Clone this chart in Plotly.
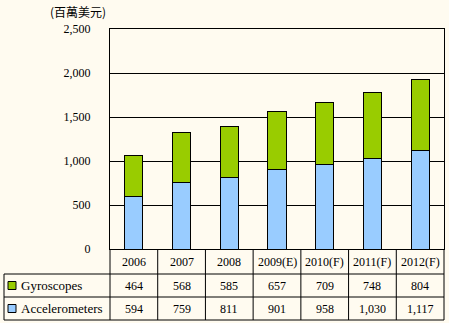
import plotly.graph_objects as go

# Annual market size, million USD
years = ["2006", "2007", "2008", "2009(E)", "2010(F)", "2011(F)", "2012(F)"]
gyroscopes = [464, 568, 585, 657, 709, 748, 804]
accelerometers = [594, 759, 811, 901, 958, 1030, 1117]
series_names = ["Gyroscopes", "Accelerometers"]
y_ticks = [0, 500, 1000, 1500, 2000, 2500]
unit_label = "(百萬美元)"

BG = "#FFFBF0"
GREEN = "#99CC00"
BLUE = "#99CCFF"
FONT = "Liberation Serif"

W, H = 449, 323
ML, MR, MT, MB = 110, 5, 29, 74
PW, PH = W - ML - MR, H - MT - MB

def py(px):
    """pixel row -> paper y"""
    return (H - MB - px) / PH

def px_x(px):
    """pixel column -> paper x"""
    return (px - ML) / PW

xs = list(range(len(years)))

fig = go.Figure()
fig.add_bar(x=xs, y=accelerometers, name=series_names[1],
            marker=dict(color=BLUE, line=dict(color="black", width=1)))
fig.add_bar(x=xs, y=gyroscopes, name=series_names[0],
            marker=dict(color=GREEN, line=dict(color="black", width=1)))

shapes = []
annotations = []
LINE = dict(color="black", width=1)

# data table rows: years, gyroscopes, accelerometers
row_lines = [py(274), py(297), py(320)]
table_left = px_x(4)
n = len(years)

for yv in row_lines:
    shapes.append(dict(type="line", xref="paper", yref="paper",
                       x0=table_left, x1=1, y0=yv, y1=yv, line=LINE))
shapes.append(dict(type="line", xref="paper", yref="paper",
                   x0=table_left, x1=table_left, y0=row_lines[0], y1=row_lines[2],
                   line=LINE))
shapes.append(dict(type="line", xref="paper", yref="paper",
                   x0=0, x1=0, y0=0, y1=row_lines[2], line=LINE))
shapes.append(dict(type="line", xref="paper", yref="paper",
                   x0=1, x1=1, y0=0, y1=row_lines[2], line=LINE))
for k in range(1, n):
    shapes.append(dict(type="line", xref="x", yref="paper",
                       x0=k - 0.5, x1=k - 0.5, y0=0, y1=row_lines[2], line=LINE))

row_centers = [(0 + row_lines[0]) / 2,
               (row_lines[0] + row_lines[1]) / 2,
               (row_lines[1] + row_lines[2]) / 2]

def cell(x, y, text, xref="x", xanchor="center", family=FONT, size=12):
    annotations.append(dict(x=x, y=y, xref=xref, yref="paper", text=text,
                            showarrow=False, xanchor=xanchor, yanchor="middle",
                            font=dict(family=family, size=size, color="black")))

for k, yr in enumerate(years):
    cell(k, row_centers[0], yr)
    cell(k, row_centers[1], f"{gyroscopes[k]:,}")
    cell(k, row_centers[2], f"{accelerometers[k]:,}")

# legend keys inside the table
for name, color, yc in [(series_names[0], GREEN, row_centers[1]),
                        (series_names[1], BLUE, row_centers[2])]:
    half = 4 / PH
    shapes.append(dict(type="rect", xref="paper", yref="paper",
                       x0=px_x(8), x1=px_x(16), y0=yc - half, y1=yc + half,
                       fillcolor=color, line=LINE))
    cell(px_x(19), yc, name, xref="paper", xanchor="left", size=13)

cell(px_x(78), py(12), unit_label, xref="paper",
     family="Noto Sans CJK TC", size=12)

fig.update_layout(
    width=W, height=H,
    margin=dict(l=ML, r=MR, t=MT, b=MB),
    paper_bgcolor=BG, plot_bgcolor=BG,
    barmode="stack", bargap=0.62,
    showlegend=False,
    shapes=shapes, annotations=annotations,
    xaxis=dict(range=[-0.5, n - 0.5], showticklabels=False, ticks="",
               showgrid=False, zeroline=False, showline=True, mirror=True,
               linecolor="black", linewidth=1, fixedrange=True),
    yaxis=dict(range=[0, 2500], tickvals=y_ticks, tickformat=",",
               showgrid=True, gridcolor="black", gridwidth=1,
               zeroline=False, showline=True, mirror=True,
               linecolor="black", linewidth=1, ticks="",
               ticklabelstandoff=16,
               tickfont=dict(family=FONT, size=12, color="black")),
)

fig.write_html("out.html")
